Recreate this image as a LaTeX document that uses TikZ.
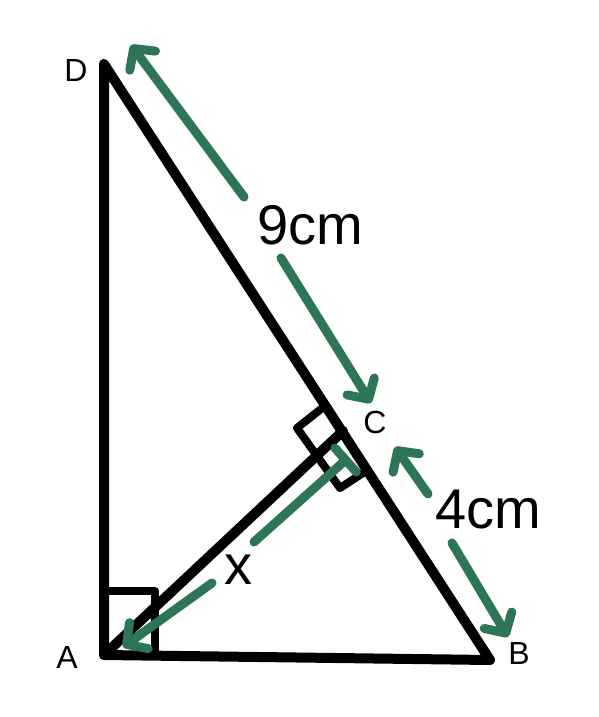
\documentclass[tikz,border=0pt]{standalone}
\usepackage{fontspec}
\setmainfont{Liberation Sans}
\usetikzlibrary{arrows.meta}
\definecolor{grn}{RGB}{46,116,86}
\begin{document}
\begin{tikzpicture}[x=1pt,y=-1pt,
  tri/.style={line width=10pt, line cap=round, line join=round},
  rmark/.style={line width=8pt, line cap=round, line join=round},
  gline/.style={draw=grn, line width=9pt, line cap=round},
  gbarb/.style={-{Straight Barb[length=15pt,width=32pt,round]}},
  gbar/.style={-{Bar[width=32pt,round]}},
  vlab/.style={inner sep=0pt, font=\fontsize{32}{36}\selectfont},
  mlab/.style={inner sep=0pt, font=\fontsize{56}{60}\selectfont}]
\useasboundingbox[fill=white] (0,0) rectangle (599,717);
% main points
\coordinate (D) at (104,64);
\coordinate (A) at (104,655);
\coordinate (B) at (490,660);
\coordinate (F) at (343,431);
% triangle and altitude
\draw[tri] (D) -- (A) -- (B) -- cycle;
\draw[tri] (A) -- (F);
% right angle at A
\coordinate (ra1) at (104,591);
\coordinate (ra2) at (155,591);
\coordinate (ra3) at (155,655);
\draw[rmark] (ra1) -- (ra2) -- (ra3);
% right angle mark at C
\coordinate (rc1) at (321,409);
\coordinate (rc2) at (297,428);
\coordinate (rc3) at (340,488);
\coordinate (rc4) at (363,473);
\draw[rmark] (rc1) -- (rc2) -- (rc3) -- (rc4);
% green 9cm arrow
\coordinate (T1) at (131,45);
\coordinate (g1) at (244,197);
\coordinate (g2) at (281,258);
\coordinate (T2) at (371,403);
\draw[gline,gbarb] (g1) -- (T1);
\draw[gline,gbarb] (g2) -- (T2);
% green 4cm arrow
\coordinate (U1) at (395,447);
\coordinate (g3) at (428,494);
\coordinate (g4) at (452,543);
\coordinate (U2) at (508,637);
\draw[gline,gbarb] (g3) -- (U1);
\draw[gline,gbarb] (g4) -- (U2);
% green x arrow
\coordinate (V1) at (349,457);
\coordinate (g5) at (254,542);
\coordinate (g6) at (212,583);
\coordinate (V2) at (123,647);
\draw[gline,gbar] (g5) -- (V1);
\draw[gline,gbarb] (g6) -- (V2);
% labels
\node[vlab] (lD) at (76,70) {D};
\node[vlab] (lA) at (67,657) {A};
\node[vlab] (lB) at (519,653) {B};
\node[vlab] (lC) at (375,422) {C};
\node[mlab] (l9) at (310,225) {9cm};
\node[mlab] (l4) at (488,510) {4cm};
\node[mlab] (lx) at (238,570) {x};
\end{tikzpicture}
\end{document}
